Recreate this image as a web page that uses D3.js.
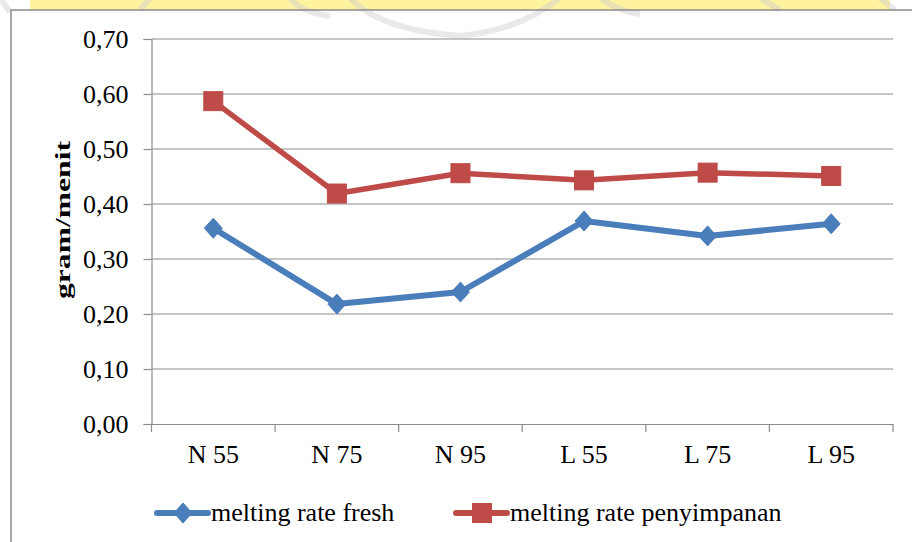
<!DOCTYPE html>
<html>
<head>
<meta charset="utf-8">
<script src="https://cdn.jsdelivr.net/npm/d3@7"></script>
<style>
  body { margin: 0; background: #fff; }
  text { font-family: "Liberation Serif", "Times New Roman", serif; }
</style>
</head>
<body>
<div id="viz"></div>
<script>
var categories = ['N 55', 'N 75', 'N 95', 'L 55', 'L 75', 'L 95'];
var fresh = [0.356, 0.218, 0.240, 0.369, 0.342, 0.364];
var penyimpanan = [0.587, 0.419, 0.456, 0.443, 0.457, 0.451];
var yTicks = [0, 0.1, 0.2, 0.3, 0.4, 0.5, 0.6, 0.7];
var seriesNames = ['melting rate fresh', 'melting rate penyimpanan'];

var width = 912, height = 542;
var margin = {top: 39, right: 19, bottom: 116, left: 151.5};
var blue = '#4a7ebb', red = '#be4b48', grid = '#8c8c8c';

var svg = d3.select('#viz').append('svg')
  .attr('width', width)
  .attr('height', height);

// faint watermark behind the chart frame
var wm = svg.append('g');
wm.append('rect').attr('x', 30).attr('y', 0).attr('width', 860).attr('height', 10)
  .attr('fill', '#fff3a0');
wm.append('path')
  .attr('d', 'M0,-2 L10,12 M150,-2 L140,10 M290,-2 Q300,12 330,16 M350,-2 Q380,30 460,36 Q520,30 560,-2 M600,-2 Q620,12 640,14 M760,-2 L780,10 M880,-2 L895,10')
  .attr('fill', 'none').attr('stroke', '#cfcfcf').attr('stroke-width', 6).attr('opacity', 0.45);

// chart frame
svg.append('rect')
  .attr('x', 11).attr('y', 10).attr('width', 950).attr('height', 600)
  .attr('fill', 'none').attr('stroke', '#8a8a8a').attr('stroke-width', 1.5);

var x = d3.scaleBand()
  .domain(categories)
  .range([margin.left, width - margin.right]);

var y = d3.scaleLinear()
  .domain([0, 0.7])
  .range([height - margin.bottom - 2, margin.top]);

// gridlines
svg.append('g')
  .selectAll('line').data(yTicks.slice(1))
  .enter().append('line')
  .attr('x1', margin.left).attr('x2', width - margin.right)
  .attr('y1', d => y(d)).attr('y2', d => y(d))
  .attr('stroke', grid).attr('stroke-width', 1.2);

// y axis
var yAxis = svg.append('g')
  .attr('transform', 'translate(' + margin.left + ',0)')
  .call(d3.axisLeft(y).tickValues(yTicks).tickSize(8).tickPadding(15)
    .tickFormat(d => d3.format('.2f')(d).replace('.', ',')));
yAxis.select('.domain').attr('stroke', grid).attr('stroke-width', 1.2);
yAxis.selectAll('.tick line').attr('stroke', grid).attr('stroke-width', 1.2);
yAxis.selectAll('text').attr('font-size', 26).attr('fill', '#000')
  .attr('font-family', '"Liberation Serif", serif');

// x axis
var xAxis = svg.append('g')
  .attr('transform', 'translate(0,' + y(0) + ')')
  .call(d3.axisBottom(x).tickSize(0).tickPadding(21));
xAxis.select('.domain').attr('stroke', grid).attr('stroke-width', 1.2);
xAxis.selectAll('text').attr('font-size', 26).attr('fill', '#000')
  .attr('font-family', '"Liberation Serif", serif');
// category boundary ticks
svg.append('g')
  .selectAll('line').data(categories.concat(['end']))
  .enter().append('line')
  .attr('x1', (d, i) => margin.left + i * x.bandwidth())
  .attr('x2', (d, i) => margin.left + i * x.bandwidth())
  .attr('y1', y(0)).attr('y2', y(0) + 8)
  .attr('stroke', grid).attr('stroke-width', 1.2);

// y title (stretched along its length like the reference)
svg.append('text')
  .attr('transform', 'translate(70,220) rotate(-90)')
  .attr('text-anchor', 'middle')
  .attr('font-size', 21).attr('font-weight', 'bold')
  .attr('textLength', 158).attr('lengthAdjust', 'spacingAndGlyphs')
  .text('gram/menit');

var cx = d => x(d) + x.bandwidth() / 2;

function drawLine(values, color, w) {
  var line = d3.line()
    .x((d, i) => cx(categories[i]))
    .y(d => y(d));
  svg.append('path')
    .datum(values)
    .attr('d', line)
    .attr('fill', 'none')
    .attr('stroke', color)
    .attr('stroke-width', w)
    .attr('stroke-linejoin', 'round');
}

function diamond(g, px, py) {
  g.append('path')
    .attr('d', 'M' + px + ',' + (py - 10) + ' L' + (px + 9) + ',' + py + ' L' + px + ',' + (py + 10) + ' L' + (px - 9) + ',' + py + ' Z')
    .attr('fill', blue).attr('stroke', blue).attr('stroke-width', 1);
}
function square(g, px, py) {
  g.append('rect')
    .attr('x', px - 9.5).attr('y', py - 9.5).attr('width', 19).attr('height', 19)
    .attr('fill', red).attr('stroke', red).attr('stroke-width', 1);
}

drawLine(fresh, blue, 6);
drawLine(penyimpanan, red, 5.5);

var markers = svg.append('g');
fresh.forEach((v, i) => diamond(markers, cx(categories[i]), y(v)));
penyimpanan.forEach((v, i) => square(markers, cx(categories[i]), y(v)));

// legend
var legend = svg.append('g');
var legendY = 513;
var items = [
  {name: seriesNames[0], color: blue, x: 157, mark: diamond},
  {name: seriesNames[1], color: red, x: 456, mark: square}
];
items.forEach(it => {
  legend.append('line')
    .attr('x1', it.x).attr('x2', it.x + 51)
    .attr('y1', legendY).attr('y2', legendY)
    .attr('stroke', it.color).attr('stroke-width', 6).attr('stroke-linecap', 'round');
  it.mark(legend, it.x + 26, legendY);
  legend.append('text')
    .attr('x', it.x + 54).attr('y', legendY + 8)
    .attr('font-size', 26)
    .text(it.name);
});
</script>
</body>
</html>
